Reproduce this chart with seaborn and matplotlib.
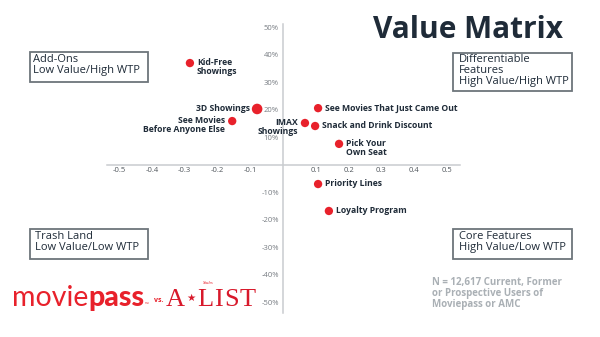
import matplotlib
matplotlib.use("Agg")
import matplotlib.pyplot as plt
import seaborn as sns
import pandas as pd
from matplotlib.patches import Rectangle

# ---------------- data ----------------
features = ["Kid-Free\nShowings", "3D Showings", "See Movies\nBefore Anyone Else",
            "IMAX\nShowings", "Snack and Drink Discount", "See Movies That Just Came Out",
            "Pick Your\nOwn Seat", "Priority Lines", "Loyalty Program"]
value = [-0.284, -0.079, -0.155, 0.067, 0.098, 0.107, 0.171, 0.107, 0.140]
wtp = [0.369, 0.202, 0.158, 0.151, 0.140, 0.205, 0.075, -0.071, -0.169]

x_ticks = [-0.5, -0.4, -0.3, -0.2, -0.1, 0.1, 0.2, 0.3, 0.4, 0.5]
x_tick_labels = ["-0.5", "-0.4", "-0.3", "-0.2", "-0.1", "0.1", "0.2", "0.3", "0.4", "0.5"]
y_ticks = [0.5, 0.4, 0.3, 0.2, 0.1, -0.1, -0.2, -0.3, -0.4, -0.5]
y_tick_labels = ["50%", "40%", "30%", "20%", "10%", "-10%", "-20%", "-30%", "-40%", "-50%"]

title = "Value Matrix"
quadrants = ["Add-Ons\nLow Value/High WTP",
             "Differentiable\nFeatures\nHigh Value/High WTP",
             "Trash Land\nLow Value/Low WTP",
             "Core Features\nHigh Value/Low WTP"]
note = "N = 12,617 Current, Former\nor Prospective Users of\nMoviepass or AMC"

df = pd.DataFrame({"feature": features, "value": value, "wtp": wtp})

# ---------------- style ----------------
sns.set_theme(style="white")
plt.rcParams["font.family"] = ["Open Sans", "DejaVu Sans"]

W, H = 600, 337
fig = plt.figure(figsize=(W / 100, H / 100), dpi=100)
fig.patch.set_facecolor("white")

def fx(px):
    return px / W

def fy(py):
    return 1 - py / H

NAVY = "#1f2b38"
RED = "#e8212b"
BOX = "#6d757b"

ax_l, ax_r, ax_t, ax_b = 107, 460, 24, 313
ax = fig.add_axes([fx(ax_l), fy(ax_b), (ax_r - ax_l) / W, (ax_b - ax_t) / H])
ax.set_facecolor("none")
ax.set_xlim(-0.537, 0.54)
ax.set_ylim(-0.54, 0.511)

sns.scatterplot(data=df, x="value", y="wtp", ax=ax, color=RED, s=36,
                edgecolor="none", linewidth=0, legend=False, zorder=3)
big = df[df["feature"] == "3D Showings"]
sns.scatterplot(data=big, x="value", y="wtp", ax=ax, color=RED, s=58,
                edgecolor="none", linewidth=0, legend=False, zorder=3)

for s in ["top", "right"]:
    ax.spines[s].set_visible(False)
for s in ["left", "bottom"]:
    ax.spines[s].set_position(("data", 0))
    ax.spines[s].set_color("#c9cccf")
    ax.spines[s].set_linewidth(1.1)

ax.set_xticks(x_ticks)
ax.set_xticklabels(x_tick_labels)
ax.set_yticks(y_ticks)
ax.set_yticklabels(y_tick_labels)
ax.tick_params(axis="x", length=0, pad=2, labelsize=5.5, labelcolor="#50565c")
ax.tick_params(axis="y", length=0, pad=3, labelsize=5.5, labelcolor="#777c82")
ax.set_xlabel("")
ax.set_ylabel("")

left_side = {"3D Showings", "See Movies\nBefore Anyone Else", "IMAX\nShowings"}
for f, xv, yv in zip(features, value, wtp):
    if f in left_side:
        ax.annotate(f, (xv, yv), xytext=(-5, 3.3), textcoords="offset points",
                    ha="right", va="top", multialignment="right",
                    fontsize=6.2, fontweight="bold", color=NAVY,
                    linespacing=0.95, zorder=4)
    else:
        ax.annotate(f, (xv, yv), xytext=(5, 3.3), textcoords="offset points",
                    ha="left", va="top", multialignment="left",
                    fontsize=6.2, fontweight="bold", color=NAVY,
                    linespacing=0.95, zorder=4)

# ---------------- title ----------------
fig.text(fx(563), fy(38), title, ha="right", va="baseline",
         fontsize=21.5, fontweight="bold", color=NAVY)

# ---------------- quadrant boxes ----------------
boxes = [(30, 52, 148, 82, 33, 54),
         (453, 53, 572, 91, 459, 54),
         (30, 229, 148, 259, 35, 231),
         (453, 229, 572, 259, 459, 231)]
for txt, (x0, y0, x1, y1, tx, ty) in zip(quadrants, boxes):
    fig.patches.append(Rectangle((fx(x0), fy(y1)), (x1 - x0) / W, (y1 - y0) / H,
                                 transform=fig.transFigure, fill=False,
                                 edgecolor=BOX, linewidth=1.3))
    fig.text(fx(tx), fy(ty), txt, ha="left", va="top", fontsize=8,
             color=NAVY, linespacing=0.98)

# ---------------- note ----------------
fig.text(fx(432), fy(276.5), note, ha="left", va="top", fontsize=7,
         fontweight="bold", color="#aab0b5", linespacing=1.05)

# ---------------- logo ----------------
fig.canvas.draw()
r = fig.canvas.get_renderer()
t1 = fig.text(fx(12), fy(306), "movie", ha="left", va="baseline",
              fontsize=20.5, fontweight="normal", color=RED,
              family=["Lato", "Open Sans"])
ext = t1.get_window_extent(r)
t2 = fig.text(ext.x1 / W, fy(306), "pass", ha="left", va="baseline",
              fontsize=20.5, fontweight="black", color=RED,
              family=["Lato", "Open Sans"])
ext2 = t2.get_window_extent(r)
fig.text(ext2.x1 / W, fy(306), "\u2122", ha="left", va="baseline",
         fontsize=3.5, color=RED)
fig.text(fx(154), fy(302), "vs.", ha="left", va="baseline",
         fontsize=5, fontweight="bold", color=RED)
serif = ["Liberation Serif", "DejaVu Serif", "DejaVu Sans"]
LOGO2 = "#d8192b"
ta = fig.text(fx(166), fy(306.5), "A", ha="left", va="baseline",
              fontsize=19, color=LOGO2, family=serif)
ea = ta.get_window_extent(r)
ts = fig.text(ea.x1 / W + 0.002, fy(301), "\u2605", ha="left", va="baseline",
              fontsize=7.5, color=LOGO2, family=["DejaVu Sans"])
es = ts.get_window_extent(r)
xcur = es.x1 + 1.5
for ch in "LIST":
    tl = fig.text(xcur / W, fy(306.5), ch, ha="left", va="baseline",
                  fontsize=19, color=LOGO2, family=serif)
    xcur = tl.get_window_extent(r).x1 + 1.2
fig.text(fx(203), fy(284), "Stubs", ha="left", va="baseline", fontsize=3.5,
         style="italic", color=RED, family=["Liberation Serif", "DejaVu Serif"])

fig.savefig("out.png", dpi=100, facecolor="white")
